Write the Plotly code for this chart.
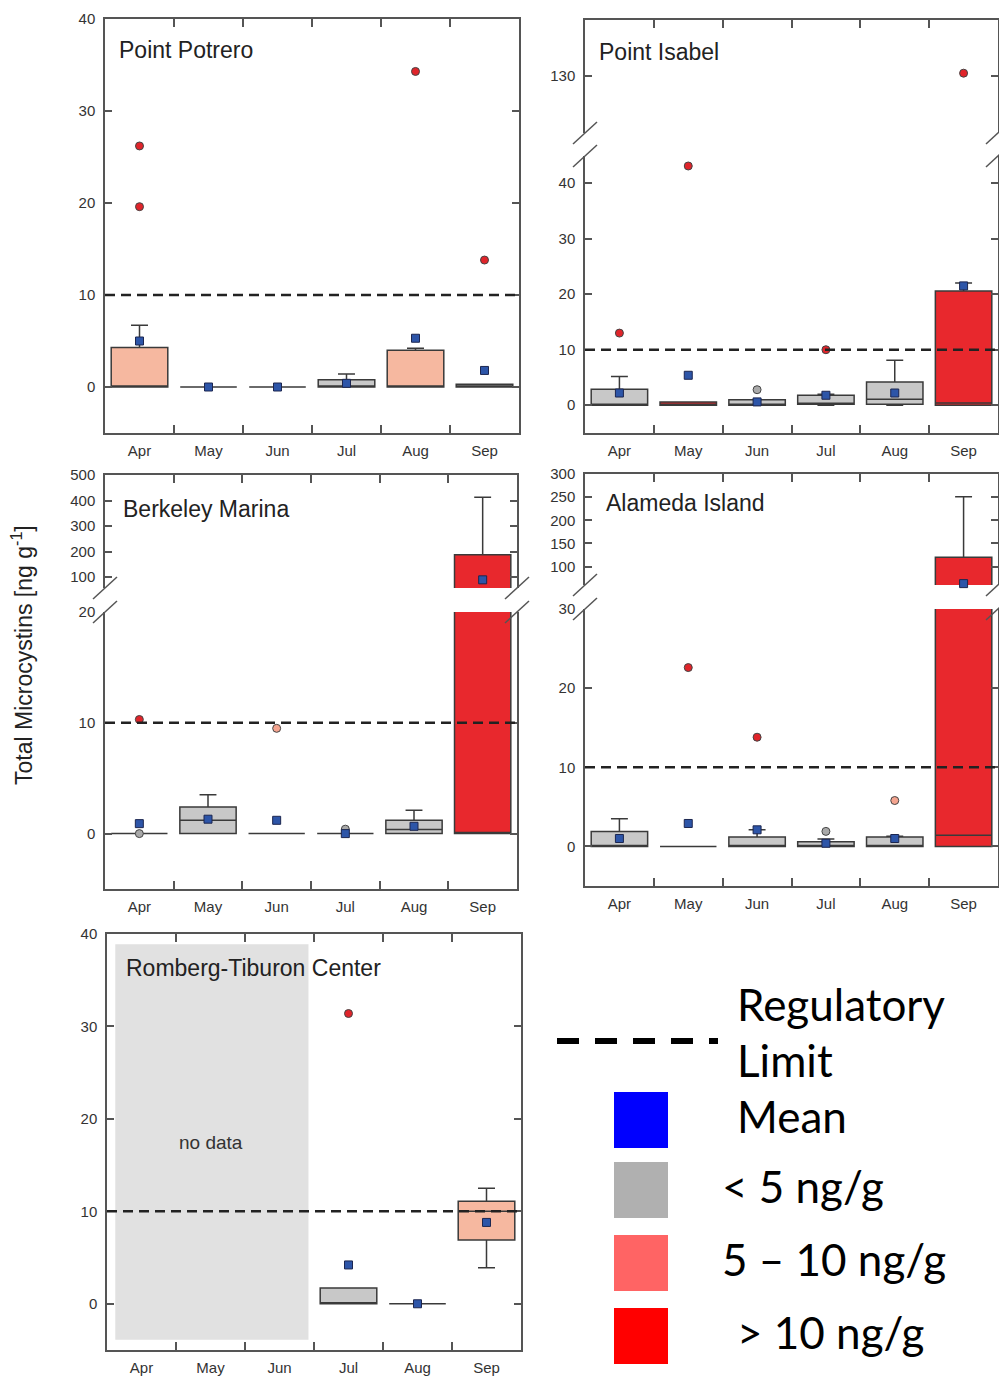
import plotly.graph_objects as go

W, H = 999, 1378
months = ["Apr", "May", "Jun", "Jul", "Aug", "Sep"]
REG_LIMIT = 10

# ---------------- data (box statistics per month) ----------------
potrero_q1 = [0, 0, 0, 0, 0, 0]
potrero_median = [0, 0, 0, 0, 0, 0]
potrero_q3 = [4.3, 0, 0, 0.8, 4.0, 0.3]
potrero_low = [0, 0, 0, 0, 0, 0]
potrero_high = [6.7, 0, 0, 1.4, 4.2, 0.3]
potrero_mean = [5.0, 0, 0, 0.4, 5.3, 1.8]
potrero_class = ["5-10", "<5", "<5", "<5", "5-10", "<5"]
potrero_out_month = ["Apr", "Apr", "Aug", "Sep"]
potrero_out_value = [26.2, 19.6, 34.3, 13.8]

isabel_q1 = [0, 0, 0, 0.2, 0.2, 0]
isabel_median = [0, 0, 0, 0.2, 1.1, 0.4]
isabel_q3 = [2.9, 0.6, 1.0, 1.8, 4.2, 20.6]
isabel_low = [0, 0, 0, 0, 0, 0]
isabel_high = [5.2, 0.6, 1.0, 2.0, 8.1, 22.0]
isabel_mean = [2.2, 5.4, 0.6, 1.8, 2.2, 21.5]
isabel_class = ["<5", ">10", "<5", "<5", "<5", ">10"]
isabel_out_month = ["Apr", "May", "Jun", "Jul", "Sep"]
isabel_out_value = [13.0, 43.1, 2.8, 10.0, 130.5]

berkeley_q1 = [0, 0, 0, 0, 0, 0]
berkeley_median = [0, 1.2, 0, 0, 0.36, 0.1]
berkeley_q3 = [0, 2.4, 0, 0, 1.2, 187]
berkeley_low = [0, 0, 0, 0, 0, 0]
berkeley_high = [0, 3.5, 0, 0, 2.1, 413]
berkeley_mean = [0.9, 1.3, 1.2, 0.0, 0.66, 89]
berkeley_class = ["<5", "<5", "<5", "<5", "<5", ">10"]
berkeley_out_month = ["Apr", "Apr", "Jun", "Jul"]
berkeley_out_value = [0.0, 10.3, 9.5, 0.4]

alameda_q1 = [0, 0, 0, 0, 0, 0]
alameda_median = [0, 0, 0, 0, 0, 1.4]
alameda_q3 = [1.9, 0, 1.2, 0.6, 1.2, 120]
alameda_low = [0, 0, 0, 0, 0, 0]
alameda_high = [3.5, 0, 2.1, 0.95, 1.3, 251]
alameda_mean = [1.0, 2.9, 2.1, 0.4, 1.0, 63]
alameda_class = ["<5", "<5", "<5", "<5", "<5", ">10"]
alameda_out_month = ["May", "Jun", "Jul", "Aug"]
alameda_out_value = [22.6, 13.8, 1.9, 5.8]

romberg_q1 = [None, None, None, 0, 0, 6.9]
romberg_median = [None, None, None, 0, 0, 10.0]
romberg_q3 = [None, None, None, 1.7, 0, 11.1]
romberg_low = [None, None, None, 0, 0, 3.9]
romberg_high = [None, None, None, 1.7, 0, 12.5]
romberg_mean = [None, None, None, 4.2, 0.0, 8.8]
romberg_class = [None, None, None, "<5", "<5", "5-10"]
romberg_out_month = ["Jul"]
romberg_out_value = [31.4]
romberg_nodata_months = ["Apr", "May", "Jun"]

legend_labels = ["Mean", "< 5 ng/g", "5 – 10 ng/g", "> 10 ng/g"]

# ---------------- styling ----------------
BOX_FILL = {"<5": "#c8c8c8", "5-10": "#f6b8a0", ">10": "#e8282d"}
PT_FILL = {"<5": "#a9a9a9", "5-10": "#f4a48f", ">10": "#e0242a"}
LEGEND_FILL = ["#0000ff", "#b0b0b0", "#ff6464", "#ff0000"]
FRAME = "#555555"
TICKFONT = dict(family="Liberation Sans, Arial, sans-serif", size=15, color="#333333")


def cls(v):
    return ">10" if v >= 10 else ("5-10" if v >= 5 else "<5")


def px(x):
    return x / W


def py(y):
    return 1 - y / H


panels = [
    dict(title="Point Potrero", tpos=(117, 50), xpx=(105, 519),
         segs=[dict(ypx=(19, 433), rng=[-5, 40], tv=[0, 10, 20, 30, 40])],
         d=(potrero_q1, potrero_median, potrero_q3, potrero_low, potrero_high,
            potrero_mean, potrero_class, potrero_out_month, potrero_out_value)),
    dict(title="Point Isabel", tpos=(597, 52), xpx=(585, 998),
         segs=[dict(ypx=(20, 133), rng=[119.7, 140.1], tv=[130]),
               dict(ypx=(156, 433), rng=[-5, 44.9], tv=[0, 10, 20, 30, 40])],
         d=(isabel_q1, isabel_median, isabel_q3, isabel_low, isabel_high,
            isabel_mean, isabel_class, isabel_out_month, isabel_out_value)),
    dict(title="Berkeley Marina", tpos=(121, 509), xpx=(105, 517),
         segs=[dict(ypx=(475, 588), rng=[57, 500], tv=[100, 200, 300, 400, 500]),
               dict(ypx=(612, 889), rng=[-5, 20], tv=[0, 10, 20])],
         d=(berkeley_q1, berkeley_median, berkeley_q3, berkeley_low, berkeley_high,
            berkeley_mean, berkeley_class, berkeley_out_month, berkeley_out_value)),
    dict(title="Alameda Island", tpos=(604, 503), xpx=(585, 998),
         segs=[dict(ypx=(474, 585), rng=[60, 300], tv=[100, 150, 200, 250, 300]),
               dict(ypx=(609, 886), rng=[-5, 30], tv=[0, 10, 20, 30])],
         d=(alameda_q1, alameda_median, alameda_q3, alameda_low, alameda_high,
            alameda_mean, alameda_class, alameda_out_month, alameda_out_value)),
    dict(title="Romberg-Tiburon Center", tpos=(124, 968), xpx=(107, 521),
         segs=[dict(ypx=(934, 1350), rng=[-5, 40], tv=[0, 10, 20, 30, 40])],
         d=(romberg_q1, romberg_median, romberg_q3, romberg_low, romberg_high,
            romberg_mean, romberg_class, romberg_out_month, romberg_out_value),
         nodata=True),
]

fig = go.Figure()
layout = dict(width=W, height=H, margin=dict(l=0, r=0, t=0, b=0, pad=0),
              autosize=False, paper_bgcolor="white", plot_bgcolor="rgba(0,0,0,0)",
              showlegend=False, boxmode="overlay")
shapes = []
annotations = []

idx = 0
for p in panels:
    q1, med, q3, lo, hi, mean, klass, om, ov = p["d"]
    nseg = len(p["segs"])
    for si, s in enumerate(p["segs"]):
        idx += 1
        xa = "x" if idx == 1 else f"x{idx}"
        ya = "y" if idx == 1 else f"y{idx}"
        is_bottom = si == nseg - 1
        single = nseg == 1
        xkey = "xaxis" if idx == 1 else f"xaxis{idx}"
        ykey = "yaxis" if idx == 1 else f"yaxis{idx}"
        xconf = dict(domain=[px(p["xpx"][0]), min(px(p["xpx"][1]), 1)], anchor=ya,
                     type="category", categoryorder="array", categoryarray=months,
                     range=[-0.5, 5.5], tickson="boundaries", ticks="inside",
                     ticklen=8, tickwidth=1.5, tickcolor=FRAME, showgrid=False,
                     zeroline=False, showline=True, linecolor=FRAME, linewidth=1.5,
                     tickfont=TICKFONT, ticklabelstandoff=3, automargin=False)
        if single:
            xconf.update(side="bottom", mirror="ticks", showticklabels=True)
        elif is_bottom:
            xconf.update(side="bottom", mirror=False, showticklabels=True)
        else:
            xconf.update(side="top", mirror=False, showticklabels=False)
        yconf = dict(domain=[py(s["ypx"][1]), py(s["ypx"][0])], anchor=xa,
                     range=s["rng"], tickmode="array", tickvals=s["tv"],
                     ticks="inside", ticklen=7, tickwidth=1.5, tickcolor=FRAME,
                     showline=True, mirror="ticks", linecolor=FRAME, linewidth=1.5,
                     showgrid=False, zeroline=False, tickfont=TICKFONT,
                     ticklabelstandoff=5, automargin=False)
        layout[xkey] = xconf
        layout[ykey] = yconf

        # register all month categories
        fig.add_trace(go.Scatter(x=months, y=[None] * 6, mode="markers",
                                 xaxis=xa, yaxis=ya, hoverinfo="skip"))
        # boxes
        for i, m in enumerate(months):
            if q1[i] is None:
                continue
            fig.add_trace(go.Box(
                x=[m], q1=[q1[i]], median=[med[i]], q3=[q3[i]],
                lowerfence=[lo[i]], upperfence=[hi[i]],
                width=0.82, whiskerwidth=0.3, boxpoints=False,
                fillcolor=BOX_FILL[klass[i]], line=dict(color="#3a3a3a", width=1.5),
                xaxis=xa, yaxis=ya, hoverinfo="skip"))
        lo_r, hi_r = s["rng"]
        # outliers
        ox = [m for m, v in zip(om, ov) if lo_r <= v <= hi_r]
        oy = [v for v in ov if lo_r <= v <= hi_r]
        if ox:
            fig.add_trace(go.Scatter(
                x=ox, y=oy, mode="markers", cliponaxis=False,
                marker=dict(symbol="circle", size=8, color=[PT_FILL[cls(v)] for v in oy],
                            line=dict(color="#444444", width=1)),
                xaxis=xa, yaxis=ya, hoverinfo="skip"))
        # means
        mx = [m for m, v in zip(months, mean) if v is not None and lo_r <= v <= hi_r]
        my = [v for v in mean if v is not None and lo_r <= v <= hi_r]
        if mx:
            fig.add_trace(go.Scatter(
                x=mx, y=my, mode="markers", cliponaxis=False,
                marker=dict(symbol="square", size=8, color="#2d55a8",
                            line=dict(color="#1c2650", width=1)),
                xaxis=xa, yaxis=ya, hoverinfo="skip"))
        # regulatory limit
        if lo_r <= REG_LIMIT <= hi_r:
            shapes.append(dict(type="line", xref=f"{xa} domain", yref=ya,
                               x0=0, x1=1, y0=REG_LIMIT, y1=REG_LIMIT,
                               line=dict(color="#222222", width=2.5, dash="10px,6px"),
                               layer="above"))
        if p.get("nodata"):
            i0 = months.index(romberg_nodata_months[0])
            i1 = months.index(romberg_nodata_months[-1])
            shapes.append(dict(type="rect", xref=xa, yref=ya,
                               x0=i0 - 0.38, x1=i1 + 0.42, y0=-3.9, y1=38.9,
                               fillcolor="#e1e1e1", line=dict(width=0), layer="below"))
            annotations.append(dict(text="no data", xref=xa, yref=ya,
                                    x=months[(i0 + i1) // 2], y=17.4, showarrow=False,
                                    font=dict(family="Liberation Sans, Arial", size=19,
                                              color="#333333")))
    # break marks
    if nseg == 2:
        yb = p["segs"][0]["ypx"][1]
        yt = p["segs"][1]["ypx"][0]
        for xe in p["xpx"]:
            for yy in (yb, yt):
                shapes.append(dict(type="line", xref="paper", yref="paper",
                                   x0=px(xe - 12), x1=px(xe + 12),
                                   y0=py(yy + 11), y1=py(yy - 11),
                                   line=dict(color=FRAME, width=1.5)))
    annotations.append(dict(text=p["title"], xref="paper", yref="paper",
                            x=px(p["tpos"][0]), y=py(p["tpos"][1]),
                            xanchor="left", yanchor="middle", showarrow=False,
                            font=dict(family="Liberation Sans, Arial", size=23,
                                      color="#222222")))

# y-axis title
annotations.append(dict(text="Total Microcystins [ng g<sup>-1</sup>]", xref="paper",
                        yref="paper", x=px(22), y=py(655), textangle=-90,
                        showarrow=False, xanchor="center", yanchor="middle",
                        font=dict(family="Liberation Sans, Arial", size=23,
                                  color="#222222")))

# legend block
LFONT = dict(family="Lato, Noto Sans, sans-serif", size=44, color="black")
shapes.append(dict(type="line", xref="paper", yref="paper", x0=px(557), x1=px(718),
                   y0=py(1041), y1=py(1041),
                   line=dict(color="black", width=6, dash="22px,16px")))
annotations.append(dict(text="Regulatory", xref="paper", yref="paper", x=px(735),
                        y=py(1004), xanchor="left", yanchor="middle",
                        showarrow=False, font=LFONT))
annotations.append(dict(text="Limit", xref="paper", yref="paper", x=px(735),
                        y=py(1060), xanchor="left", yanchor="middle",
                        showarrow=False, font=LFONT))
sq_top = [1092, 1162, 1235, 1308]
txt_x = [735, 720, 720, 735]
for lab, col, t, tx in zip(legend_labels, LEGEND_FILL, sq_top, txt_x):
    shapes.append(dict(type="rect", xref="paper", yref="paper", x0=px(614), x1=px(668),
                       y0=py(t + 56), y1=py(t), fillcolor=col, line=dict(width=0)))
    annotations.append(dict(text=lab, xref="paper", yref="paper", x=px(tx),
                            y=py(t + 24), xanchor="left", yanchor="middle",
                            showarrow=False, font=LFONT))

layout["shapes"] = shapes
layout["annotations"] = annotations
fig.update_layout(**layout)
fig.write_html("out.html", config={"displayModeBar": False},
               post_script="document.body.style.margin='0';"
                           "document.body.style.overflow='hidden';")
